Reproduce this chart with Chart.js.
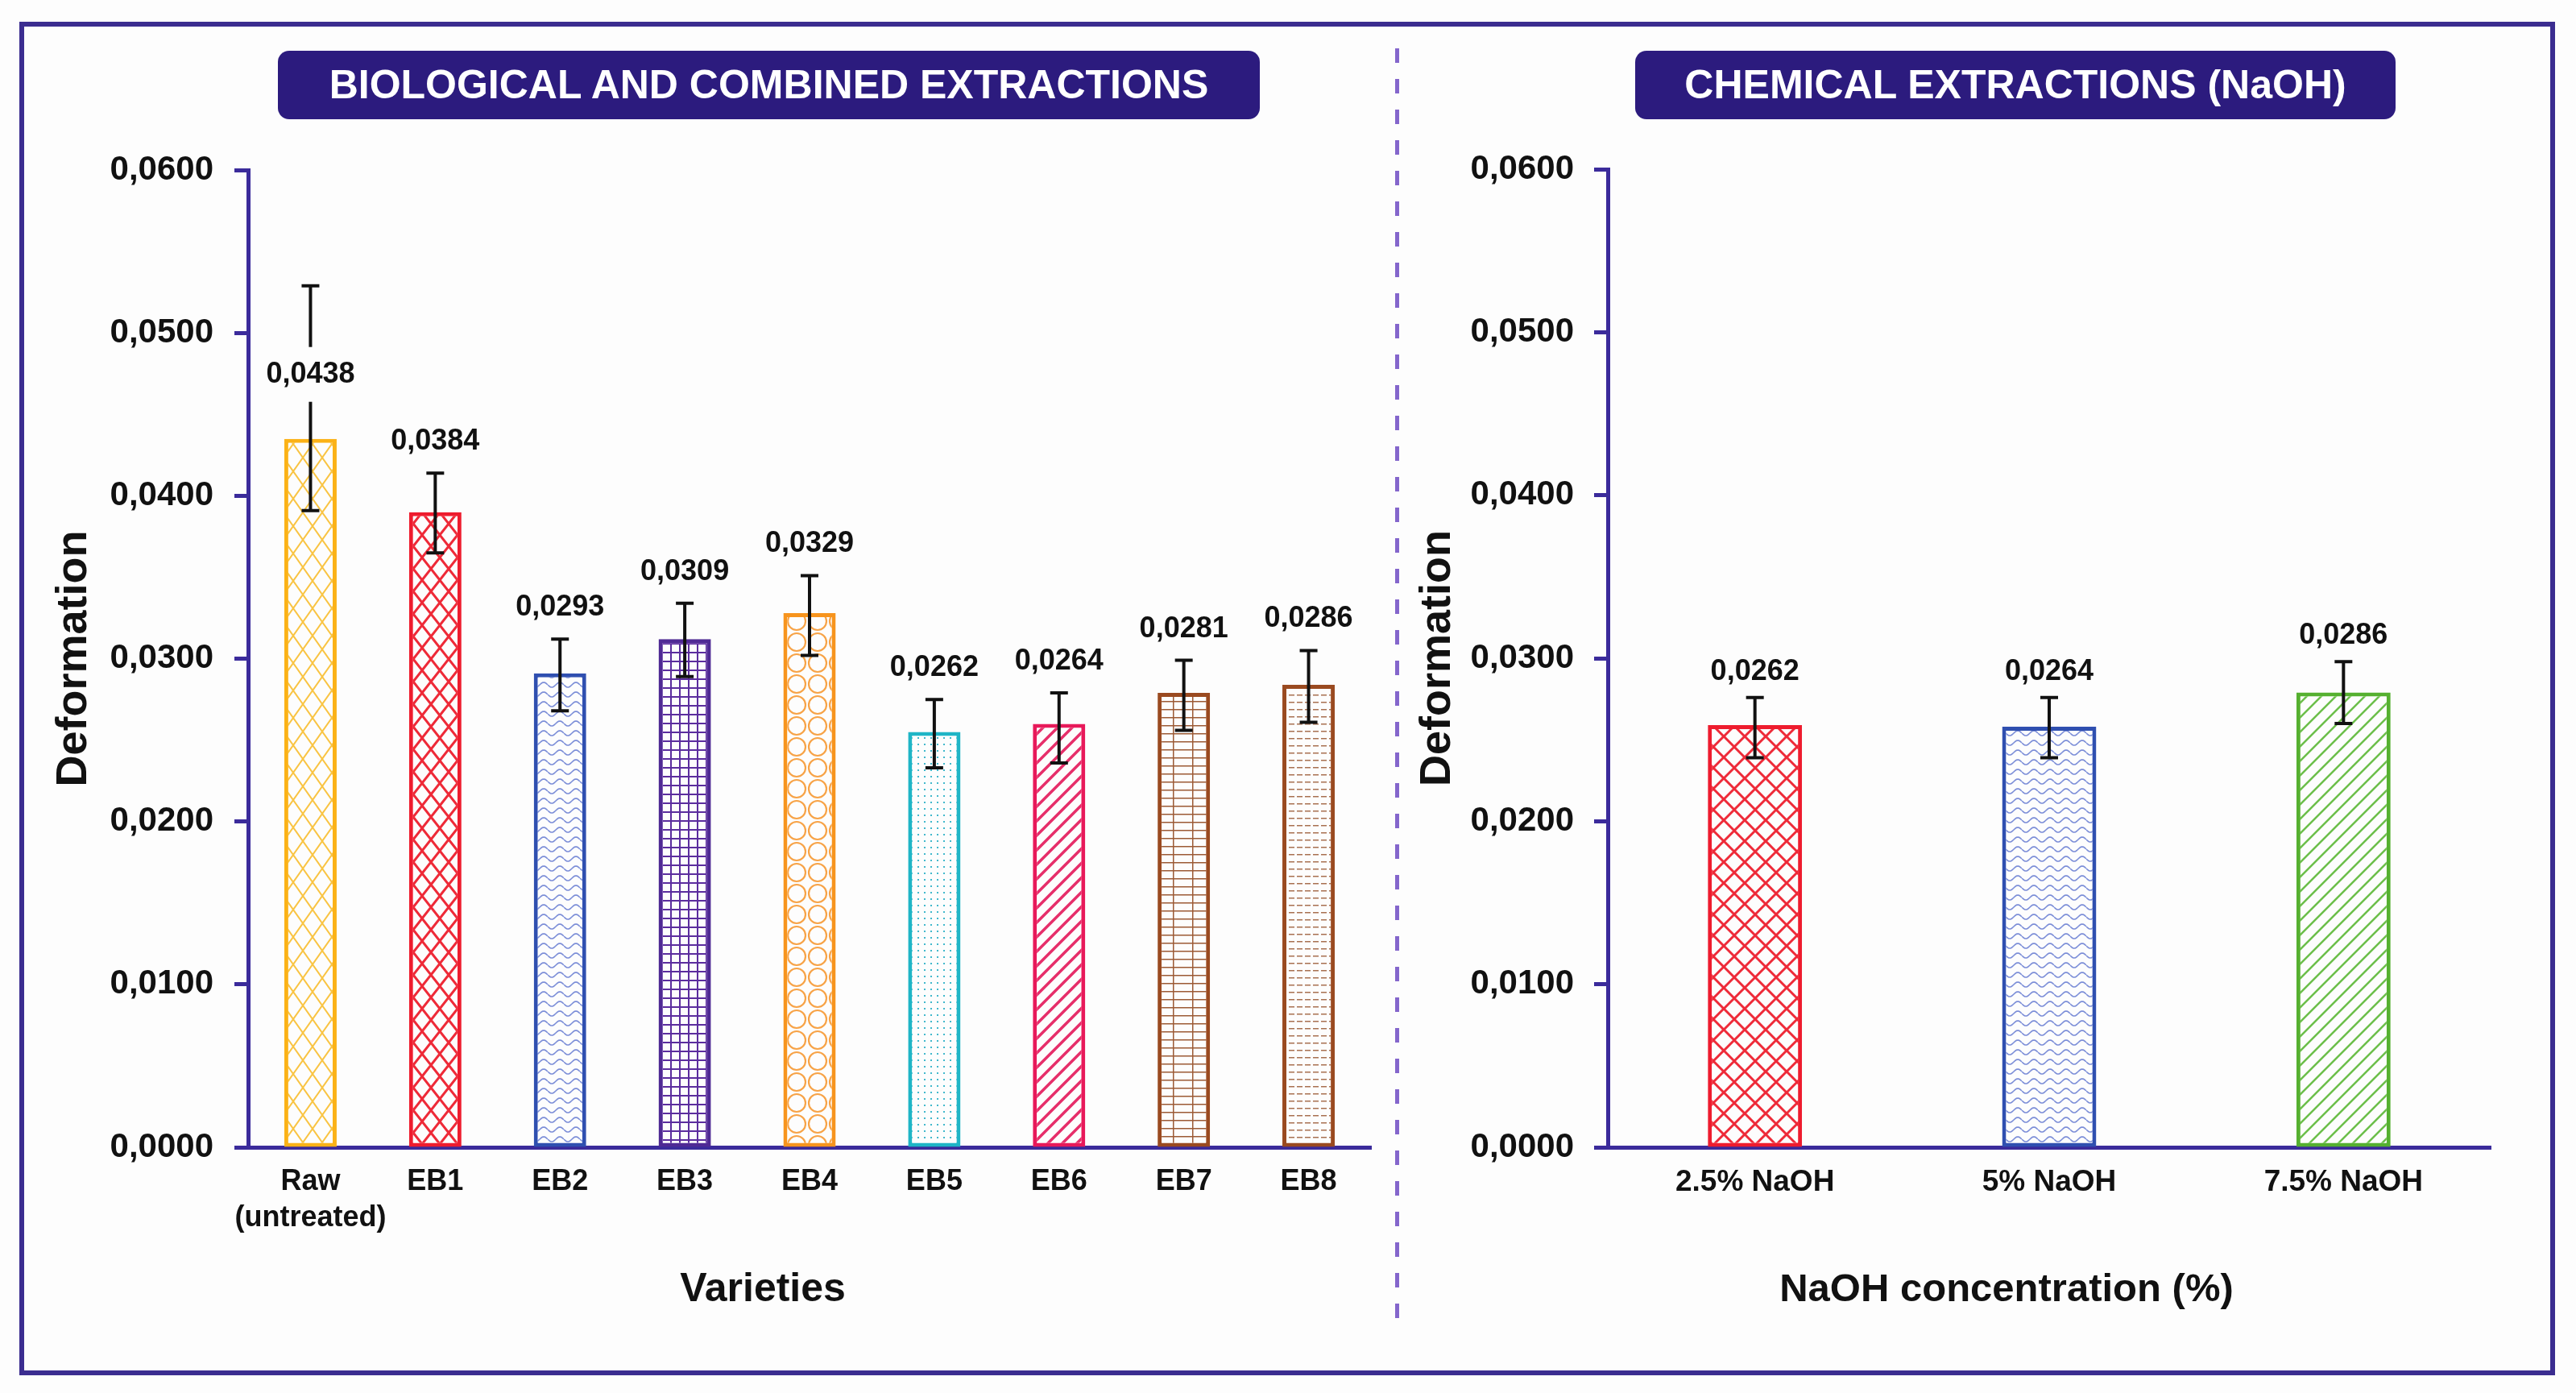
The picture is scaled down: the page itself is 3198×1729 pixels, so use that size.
<!DOCTYPE html>
<html>
<head>
<meta charset="utf-8">
<title>Deformation</title>
<script src="https://cdn.jsdelivr.net/npm/chart.js@4.4.1/dist/chart.umd.min.js"></script>
<style>
  html, body { margin: 0; padding: 0; background: #fdfdfd; }
  body { width: 3198px; height: 1729px; position: relative; overflow: hidden;
         font-family: "Liberation Sans", Arial, sans-serif; }
  #frame { position: absolute; left: 24px; top: 27px; width: 3148px; height: 1680px;
           box-sizing: border-box; border: 6px solid #3b2d90; }
  #divider { position: absolute; left: 1732px; top: 60px; width: 5px; height: 1592px;
             background: repeating-linear-gradient(to bottom, #8466cc 0 18px, transparent 18px 38px); }
  .banner { position: absolute; top: 63px; height: 85px; line-height: 85px; background: #2c1b7e;
            color: #fff; border-radius: 14px; font-weight: bold; font-size: 50px; text-align: center; }
  .xtitle { position: absolute; font-weight: bold; color: #111; white-space: nowrap;
            transform: translate(-50%, -50%); }
  canvas { position: absolute; }
</style>
</head>
<body>
<div id="frame"></div>
<div id="divider"></div>
<div class="banner" style="left:345px;width:1219px">BIOLOGICAL AND COMBINED EXTRACTIONS</div>
<div class="banner" style="left:2030px;width:944px">CHEMICAL EXTRACTIONS (NaOH)</div>
<canvas id="bio" width="1680" height="1520" style="left:40px;top:160px"></canvas>
<canvas id="naoh" width="1400" height="1520" style="left:1750px;top:160px"></canvas>
<div class="xtitle" style="left:947px;top:1598px;font-size:50px">Varieties</div>
<div class="xtitle" style="left:2491px;top:1598px;font-size:49px">NaOH concentration (%)</div>

<script>
// ---- data ----
const bioCategories = [['Raw', '(untreated)'], 'EB1', 'EB2', 'EB3', 'EB4', 'EB5', 'EB6', 'EB7', 'EB8'];
const bioValues  = [0.0435, 0.0390, 0.0291, 0.0312, 0.0328, 0.0255, 0.0260, 0.0279, 0.0284];
const bioErrLow  = [0.0391, 0.0365, 0.0268, 0.0289, 0.0302, 0.0233, 0.0236, 0.0256, 0.0261];
const bioErrHigh = [0.0529, 0.0414, 0.0312, 0.0334, 0.0351, 0.0275, 0.0279, 0.0299, 0.0305];
const bioLabels  = ['0,0438', '0,0384', '0,0293', '0,0309', '0,0329', '0,0262', '0,0264', '0,0281', '0,0286'];

const naohCategories = ['2.5% NaOH', '5% NaOH', '7.5% NaOH'];
const naohValues  = [0.0259, 0.0258, 0.0279];
const naohErrLow  = [0.0239, 0.0239, 0.0260];
const naohErrHigh = [0.0276, 0.0276, 0.0298];
const naohLabels  = ['0,0262', '0,0264', '0,0286'];

const yMin = 0, yMax = 0.06, yStep = 0.01;
// --------------------------------------

const AXIS = '#3b2b9b';
const INK = '#111';
const BG = '#fdfdfd';
Chart.defaults.font.family = '"Liberation Sans", Arial, sans-serif';

// hatch fills, like the excel pattern fills
function tile(w, h, draw) {
  const c = document.createElement('canvas');
  c.width = w; c.height = h;
  const g = c.getContext('2d');
  g.fillStyle = BG;
  g.fillRect(0, 0, w, h);
  draw(g, w, h);
  return g.createPattern(c, 'repeat');
}
const lattice = (col, w, h, lw) => tile(w, h, g => {
  g.strokeStyle = col; g.lineWidth = lw;
  g.beginPath();
  g.moveTo(0, 0); g.lineTo(w, h);
  g.moveTo(w, 0); g.lineTo(0, h);
  g.stroke();
});
const waves = (col, w, h) => tile(w, h, g => {
  g.strokeStyle = col; g.lineWidth = 1.6;
  g.beginPath();
  for (let x = 0; x <= w; x++) {
    const y = h / 2 + 3 * Math.sin(x / w * 2 * Math.PI);
    x ? g.lineTo(x, y) : g.moveTo(x, y);
  }
  g.stroke();
});
const grid = (col, w, h, lw) => tile(w, h, g => {
  g.fillStyle = col;
  g.fillRect(0, 0, w, lw);
  g.fillRect(0, 0, lw, h);
});
const stripes = (col, s, lw) => tile(s, s, g => {
  g.strokeStyle = col; g.lineWidth = lw;
  g.beginPath();
  g.moveTo(0, s); g.lineTo(s, 0);
  g.moveTo(-s / 2, s / 2); g.lineTo(s / 2, -s / 2);
  g.moveTo(s / 2, s * 1.5); g.lineTo(s * 1.5, s / 2);
  g.stroke();
});
const cells = col => tile(26, 26, g => {
  g.strokeStyle = col; g.lineWidth = 2.2;
  g.beginPath(); g.ellipse(13, 13, 11, 11, 0, 0, 2 * Math.PI); g.stroke();
});
const dots = col => tile(8, 8, g => { g.fillStyle = col; g.fillRect(3, 3, 2, 2); });
const hlines = col => tile(10, 9, g => { g.fillStyle = col; g.fillRect(0, 0, 7, 1.5); });

const bioBorders = ['#fbb217', '#ee1c2e', '#2f4fb0', '#4f2a94', '#f7941d', '#1fb5c6', '#e8195a', '#9a4a20', '#9a4a20'];
const bioFills = [
  lattice('#f9c443', 24, 34, 2),
  lattice('#ee2a38', 22, 28, 3),
  waves('#7d8fd8', 20, 12),
  grid('#5b2d9e', 11, 11, 2),
  cells('#f7a347'),
  dots('#41b8cc'),
  stripes('#e62e6a', 18, 3.5),
  grid('#9c5a35', 24, 10, 1.5),
  hlines('#a87050')
];
const naohBorders = ['#ee1c2e', '#2f4fb0', '#55b030'];
const naohFills = [
  lattice('#ee2a38', 26, 26, 3),
  waves('#7d8fd8', 20, 12),
  stripes('#6cbf4a', 18, 2.5)
];

// error bars + value labels
const errorBars = {
  id: 'errorBars',
  afterDatasetsDraw(chart, args, opts) {
    const ctx = chart.ctx;
    const ys = chart.scales.y;
    const meta = chart.getDatasetMeta(0);
    ctx.save();
    ctx.strokeStyle = INK;
    ctx.lineWidth = 4;
    meta.data.forEach((bar, i) => {
      const hi = ys.getPixelForValue(opts.high[i]);
      const lo = ys.getPixelForValue(opts.low[i]);
      ctx.beginPath();
      ctx.moveTo(bar.x, hi); ctx.lineTo(bar.x, lo);
      ctx.moveTo(bar.x - 11, hi); ctx.lineTo(bar.x + 11, hi);
      ctx.moveTo(bar.x - 11, lo); ctx.lineTo(bar.x + 11, lo);
      ctx.stroke();
    });
    ctx.font = 'bold 36px "Liberation Sans", Arial';
    ctx.textAlign = 'center';
    ctx.textBaseline = 'middle';
    meta.data.forEach((bar, i) => {
      let ly;
      if (opts.inside.includes(i)) {
        // label sits on the whisker, knock the line out behind it
        ly = bar.y - 80;
        ctx.fillStyle = BG;
        ctx.fillRect(bar.x - 8, ly - 34, 16, 68);
      } else {
        ly = ys.getPixelForValue(opts.high[i]) - opts.gap;
      }
      ctx.fillStyle = INK;
      ctx.fillText(opts.labels[i], bar.x, ly);
    });
    ctx.restore();
  }
};

function makeChart(id, cats, vals, fills, borders, barPct, o) {
  return new Chart(document.getElementById(id), {
    type: 'bar',
    data: {
      labels: cats,
      datasets: [{
        data: vals,
        backgroundColor: fills,
        borderColor: borders,
        borderWidth: 5,
        borderSkipped: false,
        barPercentage: barPct,
        categoryPercentage: 1
      }]
    },
    options: {
      responsive: false,
      animation: false,
      devicePixelRatio: 1,
      layout: { padding: { left: 0, right: o.padRight, top: 44, bottom: 0 } },
      plugins: {
        legend: { display: false },
        tooltip: { enabled: false },
        errorBars: o.err
      },
      scales: {
        x: {
          grid: { display: false, drawTicks: false },
          border: { display: true, color: AXIS, width: 5 },
          ticks: { color: INK, font: { size: o.xFont, weight: 'bold', lineHeight: 1.25 },
                   padding: 21, maxRotation: 0, autoSkip: false },
          afterFit: s => { s.height = 256; }
        },
        y: {
          min: yMin, max: yMax,
          grid: { drawOnChartArea: false, drawTicks: true, tickLength: 17, tickWidth: 5, tickColor: AXIS, color: AXIS },
          border: { display: true, color: AXIS, width: 5 },
          ticks: { stepSize: yStep, color: INK, font: { size: 42, weight: 'bold' }, padding: o.tickPad,
                   callback: v => v.toFixed(4).replace('.', ',') },
          title: { display: true, text: 'Deformation', color: INK, font: { size: 54, weight: 'bold' },
                   padding: { top: o.titlePad, bottom: 0 } },
          afterFit: s => { s.width = o.yWidth; }
        }
      }
    },
    plugins: [errorBars]
  });
}

makeChart('bio', bioCategories, bioValues, bioFills, bioBorders, 0.42, {
  padRight: 18, yWidth: 268, tickPad: 26, titlePad: 20, xFont: 36,
  err: { low: bioErrLow, high: bioErrHigh, labels: bioLabels, gap: 39, inside: [0] }
});
makeChart('naoh', naohCategories, naohValues, naohFills, naohBorders, 0.32, {
  padRight: 58, yWidth: 246, tickPad: 25, titlePad: 3, xFont: 37,
  err: { low: naohErrLow, high: naohErrHigh, labels: naohLabels, gap: 32, inside: [] }
});
</script>
</body>
</html>
